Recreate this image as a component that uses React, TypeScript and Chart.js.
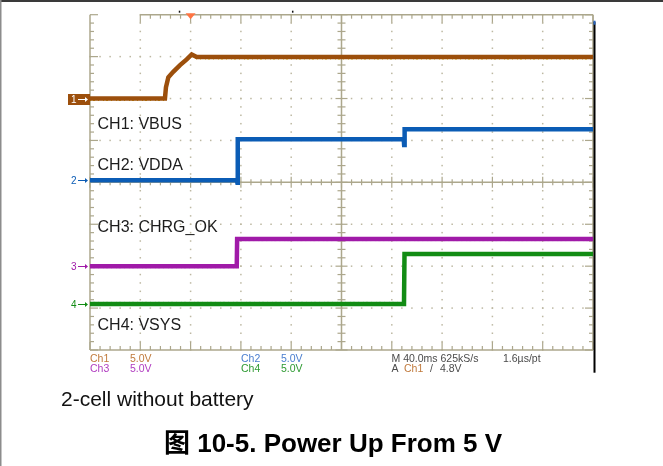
import { useEffect, useRef } from 'react';
import { Chart, registerables } from 'chart.js';

Chart.register(...registerables);

// Horizontal: 10 divisions of 40 ms. Vertical: 8 divisions, 5 V per division.
const msPerDiv = 40;
const timeDivs = 10;
const voltsPerDiv = 5;
const vDivsHalf = 4;

// Trigger point (ms from left edge of the screen)
const triggerMs = 80;

// Channel names, colours and ground offsets (in divisions from centre)
const channelNames = ['CH1: VBUS', 'CH2: VDDA', 'CH3: CHRG_OK', 'CH4: VSYS'];
const channelColors = ['#9c4f0c', '#0b5cb5', '#a01aa8', '#128c14'];
const speckleColors = ['#d2b400', '#62c6ee', '#cf74d8', '#48c448'];
const speckleShift = [2, -1.5, 1.5, -1.5];
const channelOffsets = [2.0, 0.05, -2.0, -2.9];

// Traces: time in ms, level in volts
const ch1Time = [0, 59.6, 60.4, 62.3, 66.2, 71.6, 76.9, 80.9, 84.9, 400];
const ch1Volts = [0, 0, 1.34, 2.53, 3.19, 3.98, 4.66, 5.25, 4.96, 4.96];

const ch2Time = [0, 116.8, 117.2, 117.5, 249.5, 249.8, 250.2, 400];
const ch2Volts = [0, 0, -0.3, 4.88, 4.88, 4.2, 6.07, 6.07];

const ch3Time = [0, 116.7, 117.0, 400];
const ch3Volts = [0, 0, 3.23, 3.23];

const ch4Time = [0, 249.7, 250.1, 400];
const ch4Volts = [0, 0, 5.94, 5.94];

const traceTimes = [ch1Time, ch2Time, ch3Time, ch4Time];
const traceVolts = [ch1Volts, ch2Volts, ch3Volts, ch4Volts];

// Status lines under the graticule
const scaleLabels = ['Ch1', 'Ch3', 'Ch2', 'Ch4'];
const scaleValues = ['5.0V', '5.0V', '5.0V', '5.0V'];
const scaleColors = ['#c07a3c', '#b03cc0', '#4a7ecf', '#2e9a32'];
const timebaseText = 'M 40.0ms 625kS/s';
const sampleText = '1.6\u00b5s/pt';
const triggerLevelText = '4.8V';

const lineColor = '#aca78c';
const dotColor = '#bdb8a2';
const FONT = '"Liberation Sans", Arial, Helvetica, sans-serif';

const scopePlugin = {
  id: 'scopeScreen',
  beforeDatasetsDraw(chart: any) {
    const { ctx, scales } = chart;
    const px = (t: number) => scales.x.getPixelForValue(t);
    const py = (d: number) => scales.y.getPixelForValue(d);
    const L = px(0);
    const R = px(msPerDiv * timeDivs);
    const T = py(vDivsHalf);
    const B = py(-vDivsHalf);
    const cx = px((msPerDiv * timeDivs) / 2);
    const cy = py(0);
    const minorMs = msPerDiv / 5;

    ctx.save();

    // page frame
    ctx.fillStyle = '#3a3a3a';
    ctx.fillRect(0, 0, chart.width, 2);
    ctx.fillStyle = '#8c8c8c';
    ctx.fillRect(0, 0, 1.5, chart.height);

    // dotted division lines
    ctx.fillStyle = dotColor;
    for (let i = 1; i < timeDivs; i++) {
      if (i === timeDivs / 2) continue;
      const xx = px(i * msPerDiv);
      for (let j = 0; j <= vDivsHalf * 2 * 5; j++) {
        const yy = py(-vDivsHalf + j * 0.2);
        ctx.fillRect(xx - 0.75, yy - 0.75, 1.5, 1.5);
      }
    }
    for (let j = -vDivsHalf + 1; j < vDivsHalf; j++) {
      if (j === 0) continue;
      const yy = py(j);
      for (let i = 0; i <= timeDivs * 5; i++) {
        const xx = px(i * minorMs);
        ctx.fillRect(xx - 0.75, yy - 0.75, 1.5, 1.5);
      }
    }

    ctx.strokeStyle = lineColor;
    ctx.lineWidth = 1.5;
    const seg = (x1: number, y1: number, x2: number, y2: number) => {
      ctx.beginPath();
      ctx.moveTo(x1, y1);
      ctx.lineTo(x2, y2);
      ctx.stroke();
    };

    // outer border
    seg(L, T, L, B);
    seg(px(msPerDiv), T, R, T);
    seg(R, T, R, B);
    seg(L, B, R, B);

    // border ticks
    ctx.lineWidth = 1.2;
    for (let i = 0; i <= timeDivs * 5; i++) {
      const xx = px(i * minorMs);
      const len = i % 5 === 0 ? 8 : 4;
      if (i * minorMs >= msPerDiv) seg(xx, T, xx, T + len);
      seg(xx, B, xx, B - len);
    }
    for (let j = 0; j <= vDivsHalf * 2 * 5; j++) {
      const yy = py(-vDivsHalf + j * 0.2);
      const len = j % 5 === 0 ? 8 : 4;
      seg(L, yy, L + len, yy);
      seg(R, yy, R - len, yy);
    }

    // centre cross
    ctx.lineWidth = 1.5;
    seg(L, cy, R, cy);
    seg(cx, T, cx, B);
    ctx.lineWidth = 1.2;
    for (let i = 0; i <= timeDivs * 5; i++) {
      const xx = px(i * minorMs);
      const h = i % 5 === 0 ? 5.5 : 3;
      seg(xx, cy - h, xx, cy + h);
    }
    for (let j = 0; j <= vDivsHalf * 2 * 5; j++) {
      const yy = py(-vDivsHalf + j * 0.2);
      const h = j % 5 === 0 ? 6 : 4;
      seg(cx - h, yy, cx + h, yy);
    }

    // trigger position marker
    const tx = px(triggerMs);
    ctx.fillStyle = '#ff7442';
    ctx.beginPath();
    ctx.moveTo(tx - 5, T - 1.5);
    ctx.lineTo(tx + 5, T - 1.5);
    ctx.lineTo(tx, T + 4.5);
    ctx.closePath();
    ctx.fill();

    // small position indicators above the screen
    ctx.fillStyle = '#111';
    ctx.fillRect(px(71) - 0.5, T - 4, 1.5, 2);
    ctx.fillRect(px(161) - 0.5, T - 4, 1.5, 2);

    // right-hand frame bar
    ctx.fillStyle = '#000';
    ctx.fillRect(R + 0.5, T + 7, 2, 351);
    ctx.fillStyle = '#2a66c0';
    ctx.fillRect(R + 0.5, T + 6, 2, 4);

    ctx.restore();
  },
  beforeDatasetDraw(chart: any, args: any) {
    const ds = chart.data.datasets[args.index];
    chart.ctx.save();
    if (ds.speckleShift) chart.ctx.translate(0, ds.speckleShift);
  },
  afterDatasetDraw(chart: any) {
    chart.ctx.restore();
  },
  afterDatasetsDraw(chart: any) {
    const { ctx, scales } = chart;
    const px = (t: number) => scales.x.getPixelForValue(t);
    const py = (d: number) => scales.y.getPixelForValue(d);
    const L = px(0);
    const B = py(-vDivsHalf);
    ctx.save();

    // ground markers on the left edge
    channelOffsets.forEach((off, i) => {
      const yy = Math.round(py(off)) + 0.5;
      const color = channelColors[i];
      let fg = color;
      if (i === 0) {
        ctx.fillStyle = color;
        ctx.fillRect(L - 22, yy - 5.5, 22, 11);
        fg = '#ffffff';
      }
      ctx.fillStyle = fg;
      ctx.strokeStyle = fg;
      ctx.font = `10px ${FONT}`;
      ctx.textBaseline = 'middle';
      ctx.textAlign = 'left';
      ctx.fillText(String(i + 1), L - 19, yy + 0.5);
      ctx.lineWidth = 1;
      ctx.beginPath();
      ctx.moveTo(L - 12, yy);
      ctx.lineTo(L - 3, yy);
      ctx.stroke();
      ctx.beginPath();
      ctx.moveTo(L - 2, yy);
      ctx.lineTo(L - 5, yy - 2.5);
      ctx.lineTo(L - 5, yy + 2.5);
      ctx.closePath();
      ctx.fill();
    });

    // channel captions on screen
    const labelX = px(6);
    const labelDivs = [1.272, 0.286, -1.174, -3.525];
    ctx.fillStyle = '#1c1c1c';
    ctx.font = `16px ${FONT}`;
    ctx.textBaseline = 'alphabetic';
    ctx.textAlign = 'left';
    channelNames.forEach((name, i) => {
      ctx.fillText(name, labelX, py(labelDivs[i]));
    });

    // status lines
    ctx.font = `10.5px ${FONT}`;
    const row1 = B + 12;
    const row2 = B + 22;
    const colsX = [L, L, L + 151, L + 151];
    const rows = [row1, row2, row1, row2];
    scaleLabels.forEach((lab, i) => {
      ctx.fillStyle = scaleColors[i];
      ctx.fillText(lab, colsX[i], rows[i]);
      ctx.fillText(scaleValues[i], colsX[i] + 40, rows[i]);
    });
    ctx.fillStyle = '#4a4a4a';
    ctx.fillText(timebaseText, L + 301.5, row1);
    ctx.fillText(sampleText, L + 413, row1);
    ctx.fillText('A', L + 301.5, row2);
    ctx.fillStyle = scaleColors[0];
    ctx.fillText('Ch1', L + 314, row2);
    ctx.fillStyle = '#4a4a4a';
    ctx.fillText('/', L + 340, row2);
    ctx.fillText(triggerLevelText, L + 350, row2);

    ctx.restore();
  },
};

export default function App() {
  const canvasRef = useRef<HTMLCanvasElement | null>(null);

  useEffect(() => {
    const canvas = canvasRef.current;
    if (!canvas) return;
    const points = (i: number) =>
      traceTimes[i].map((t, k) => ({ x: t, y: channelOffsets[i] + traceVolts[i][k] / voltsPerDiv }));
    const traces = traceTimes.map((_, i) => ({
      label: channelNames[i],
      data: points(i),
      borderColor: channelColors[i],
      backgroundColor: channelColors[i],
      borderWidth: 4.5,
      pointRadius: 0,
      tension: 0,
      fill: false,
    }));
    // thin broken edge on each trace for the sampled-noise look
    const speckles = traceTimes.map((_, i) => ({
      label: channelNames[i] + ' noise',
      data: points(i),
      borderColor: speckleColors[i],
      borderWidth: 1,
      borderDash: [1, 2, 2, 3, 1, 4],
      pointRadius: 0,
      tension: 0,
      fill: false,
      speckleShift: speckleShift[i],
    }));
    const chart = new Chart(canvas, {
      type: 'line',
      data: { datasets: [...traces, ...speckles] },
      options: {
        responsive: false,
        animation: false,
        layout: { padding: { left: 90, top: 14.7, right: 70, bottom: 116 } },
        scales: {
          x: { type: 'linear', min: 0, max: msPerDiv * timeDivs, display: false },
          y: { type: 'linear', min: -vDivsHalf, max: vDivsHalf, display: false },
        },
        plugins: { legend: { display: false }, tooltip: { enabled: false } },
      },
      plugins: [scopePlugin],
    } as any);
    return () => chart.destroy();
  }, []);

  return (
    <div style={{ position: 'absolute', left: 0, top: 0, width: 663, height: 466, background: '#fff', overflow: 'hidden' }}>
      <canvas ref={canvasRef} width={663} height={466} style={{ position: 'absolute', left: 0, top: 0 }} />
      <div
        style={{
          position: 'absolute',
          left: 61,
          top: 388,
          font: `21px ${FONT}`,
          lineHeight: '21px',
          color: '#111',
          whiteSpace: 'nowrap',
        }}
      >
        2-cell without battery
      </div>
      <div
        style={{
          position: 'absolute',
          left: 0,
          width: 666,
          top: 430,
          textAlign: 'center',
          font: `bold 26px "Liberation Sans", Arial, "Noto Sans CJK SC", sans-serif`,
          lineHeight: '26px',
          color: '#000',
          whiteSpace: 'nowrap',
        }}
      >
        图 10-5. Power Up From 5 V
      </div>
    </div>
  );
}
